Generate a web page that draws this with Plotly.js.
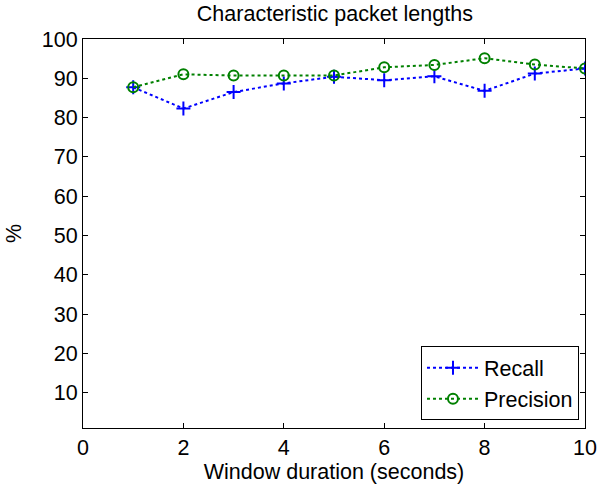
<!DOCTYPE html>
<html>
<head>
<meta charset="utf-8">
<script src="https://cdn.plot.ly/plotly-3.0.1.min.js"></script>
<style>html,body{margin:0;padding:0;background:#fff;}#chart{width:598px;height:486px;}</style>
</head>
<body>
<div id="chart"></div>
<script>
const windowSeconds = [1, 2, 3, 4, 5, 6, 7, 8, 9, 10];
const recall = [87.7, 82.3, 86.5, 88.7, 90.4, 89.5, 90.5, 86.8, 91.2, 92.5];
const precision = [87.7, 91.0, 90.7, 90.7, 90.7, 92.8, 93.4, 95.1, 93.5, 92.5];
const xTicks = [0, 2, 4, 6, 8, 10];
const yTicks = [10, 20, 30, 40, 50, 60, 70, 80, 90, 100];

const font = {family: 'Liberation Sans, Arial, sans-serif', size: 21.5, color: '#000'};

const traces = [
  {x: windowSeconds, y: recall, name: 'Recall', type: 'scatter', mode: 'lines+markers',
   line: {color: '#0000ff', width: 2, dash: 'dot'},
   marker: {symbol: 'cross-thin-open', size: 10, color: '#0000ff', line: {color: '#0000ff', width: 2}}},
  {x: windowSeconds, y: precision, name: 'Precision', type: 'scatter', mode: 'lines+markers',
   line: {color: '#008000', width: 2, dash: 'dot'},
   marker: {symbol: 'circle-open', size: 10, color: '#008000', line: {color: '#008000', width: 2}}}
];

const axisCommon = {showgrid: false, zeroline: false, showline: true, linecolor: '#000', linewidth: 1,
  mirror: 'ticks', ticks: 'inside', ticklen: 5, tickcolor: '#000', tickfont: font};

const layout = {
  width: 598, height: 486,
  margin: {l: 83, r: 13, t: 39, b: 58},
  paper_bgcolor: '#fff', plot_bgcolor: '#fff',
  font: font,
  title: {text: 'Characteristic packet lengths', font: font,
          x: 0.56, xanchor: 'center', y: 0.972, yanchor: 'middle'},
  xaxis: Object.assign({}, axisCommon, {range: [0, 10], tickvals: xTicks,
    title: {text: 'Window duration (seconds)', font: font, standoff: 0}}),
  yaxis: Object.assign({}, axisCommon, {range: [1, 100], tickvals: yTicks,
    title: {text: '%', font: font, standoff: 14}}),
  showlegend: true,
  legend: {x: 0.988, y: 0.02, xanchor: 'right', yanchor: 'bottom', bgcolor: '#fff',
    bordercolor: '#000', borderwidth: 1, font: font, tracegroupgap: 0, itemwidth: 52}
};

Plotly.newPlot('chart', traces, layout, {displayModeBar: false, staticPlot: true});
</script>
</body>
</html>
